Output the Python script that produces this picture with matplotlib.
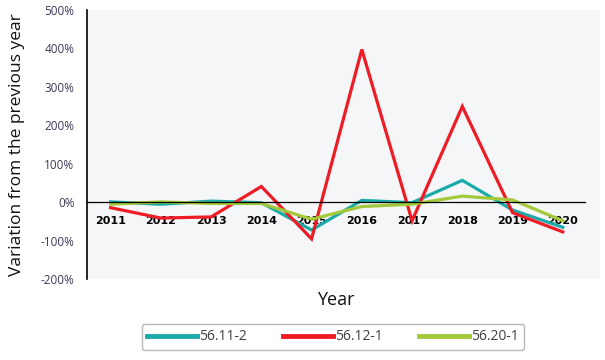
import matplotlib.pyplot as plt

plt.rcParams['font.family'] = ['Open Sans', 'DejaVu Sans']

years = ['2011', '2012', '2013', '2014', '2015', '2016', '2017', '2018', '2019', '2020']
s_56_11_2 = [1, -5, 3, -1, -72, 5, -1, 57, -20, -65]
s_56_12_1 = [-14, -41, -38, 41, -95, 397, -48, 249, -27, -77]
s_56_20_1 = [-5, 1, -3, -3, -44, -11, -5, 16, 6, -48]

series = [
    ('56.11-2', s_56_11_2, '#1aaaa8'),
    ('56.12-1', s_56_12_1, '#ee1c25'),
    ('56.20-1', s_56_20_1, '#a3c93a'),
]

fig = plt.figure(figsize=(6.05, 3.6), dpi=100)
ax = fig.add_axes([0.1438, 0.2242, 0.8479, 0.7486])
ax.set_facecolor('#f5f6f8')

x = list(range(len(years)))
for name, vals, col in series:
    ax.plot(x, vals, color=col, lw=2.3, label=name, solid_joinstyle='miter')

ax.set_ylim(-200, 500)
ax.set_xlim(-0.47, 9.74)
ax.set_yticks(range(-200, 501, 100))
ax.set_yticklabels(['%d%%' % v for v in range(-200, 501, 100)],
                   fontsize=8.5, color='#3a3a5c')
ax.tick_params(axis='y', length=0, pad=9)

ax.spines['top'].set_visible(False)
ax.spines['right'].set_visible(False)
ax.spines['left'].set_color('black')
ax.spines['left'].set_linewidth(1.2)
ax.spines['bottom'].set_position(('data', 0))
ax.spines['bottom'].set_bounds(-0.47, 9.45)
ax.spines['bottom'].set_linewidth(0.9)
ax.set_xticks(x)
ax.set_xticklabels(years, fontsize=8, fontweight='bold', color='black',
                   family=['DejaVu Sans'])
ax.tick_params(axis='x', length=0, pad=10)

ax.set_xlabel('Year', fontsize=13, color='#111111')
ax.xaxis.set_label_coords(0.485, -0.045)
ax.set_ylabel('Variation from the previous year', fontsize=12.5, color='#111111')
ax.yaxis.set_label_coords(-0.121, 0.5)

leg = fig.legend(loc='center', bbox_to_anchor=(333 / 605, 1 - 337 / 360), ncol=3,
                 fontsize=10, frameon=True, fancybox=True, edgecolor='#a8a8a8',
                 handlelength=3.6, handletextpad=0.15, columnspacing=2.6,
                 borderpad=0.4, borderaxespad=0)
for t in leg.get_texts():
    t.set_color('#404040')
for h in leg.get_lines():
    h.set_linewidth(3.5)

fig.savefig('out.png', dpi=100)
